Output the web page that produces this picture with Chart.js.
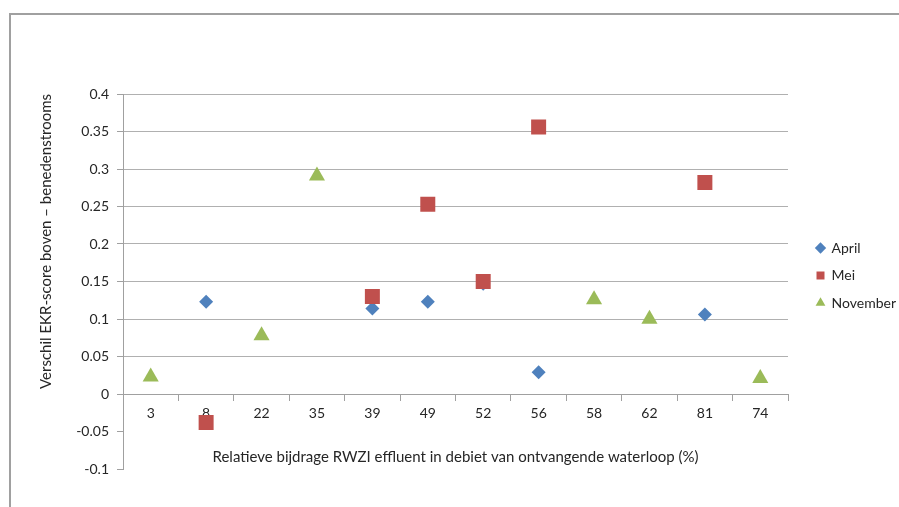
<!DOCTYPE html>
<html>
<head>
<meta charset="utf-8">
<title>EKR-score</title>
<script src="https://cdn.jsdelivr.net/npm/chart.js@4.4.1/dist/chart.umd.min.js"></script>
<style>
    html, body { margin: 0; padding: 0; background: #fff; }
    #wrap { position: relative; width: 899px; height: 507px; overflow: hidden; }
    #frame { position: absolute; left: 9px; top: 13px; width: 1000px; height: 600px;
             border-top: 2px solid #a0a0a0; border-left: 2px solid #a0a0a0; }
    #ekrChart { position: absolute; left: 0; top: 0; }
</style>
</head>
<body>
<div id="wrap">
    <div id="frame"></div>
    <canvas id="ekrChart" width="899" height="507"></canvas>
</div>
<script>
// relatieve bijdrage RWZI (%), volgorde zoals in de grafiek
var categories = ['3', '8', '22', '35', '39', '49', '52', '56', '58', '62', '81', '74'];

var seriesNames = ['April', 'Mei', 'November'];
var aprilValues    = [null, 0.123, null, null, 0.114, 0.123, 0.147, 0.029, null, null, 0.106, null];
var meiValues      = [null, -0.038, null, null, 0.130, 0.253, 0.150, 0.356, null, null, 0.282, null];
var novemberValues = [0.023, null, 0.078, 0.291, null, null, null, null, 0.126, 0.100, null, 0.021];

var yTicks = [-0.1, -0.05, 0, 0.05, 0.1, 0.15, 0.2, 0.25, 0.3, 0.35, 0.4];

window.rwzi = window.rwzi || {};
window.rwzi.EkrChart = function() {
    var self = {};

    var textColor = '#262626';
    var gridColor = '#b0b0b0';
    var axisColor = '#a0a0a0';
    var fontFamily = 'Lato, "Open Sans", sans-serif';

    // Excel zet de legenda iets hoger en verder naar rechts dan Chart.js
    var legendShift = {
        id: 'legendShift',
        afterLayout: function(chart) {
            var l = chart.legend;
            if (!l) return;
            l.left += 15;
            l.right = l.left + 120;
            l.top -= 6; l.bottom -= 6;
        }
    };

    var buildDatasets = function() {
        return [
            { label: seriesNames[0], data: aprilValues, pointStyle: 'rectRot', pointRadius: 7,
              backgroundColor: '#4f81bd', borderColor: '#4f81bd', order: 3 },
            { label: seriesNames[1], data: meiValues, pointStyle: 'rect', pointRadius: 10.6,
              backgroundColor: '#c0504d', borderColor: '#c0504d', order: 2 },
            { label: seriesNames[2], data: novemberValues, pointStyle: 'triangle', pointRadius: 9.3,
              backgroundColor: '#9bbb59', borderColor: '#9bbb59', order: 1 }
        ].map(function(ds) {
            ds.showLine = false;
            ds.pointBorderWidth = 0;
            ds.pointHoverRadius = ds.pointRadius;
            return ds;
        });
    };

    var init = function() {
        self.el = document.getElementById('ekrChart');

        self.chart = new Chart(self.el, {
            type: 'line',
            data: { labels: categories, datasets: buildDatasets() },
            plugins: [legendShift],
            options: {
                responsive: false,
                animation: false,
                events: [],
                layout: { padding: { left: 10, top: 94, right: 31, bottom: 38 } },
                plugins: {
                    tooltip: { enabled: false },
                    legend: {
                        position: 'right',
                        maxWidth: 80,
                        labels: {
                            usePointStyle: true,
                            boxWidth: 8,
                            boxHeight: 8,
                            padding: 13.5,
                            color: textColor,
                            font: { family: fontFamily, size: 14 },
                            sort: function(a, b) { return a.datasetIndex - b.datasetIndex; }
                        }
                    }
                },
                scales: {
                    x: {
                        type: 'category',
                        position: { y: 0 },
                        offset: true,
                        grid: { offset: true, drawOnChartArea: false, tickLength: 6, tickColor: axisColor },
                        border: { color: axisColor },
                        ticks: { color: textColor, padding: 5, maxRotation: 0, font: { family: fontFamily, size: 14 } },
                        title: {
                            display: true,
                            text: 'Relatieve bijdrage RWZI effluent in debiet van ontvangende waterloop (%)',
                            color: textColor,
                            font: { family: fontFamily, size: 15 },
                            padding: { top: 21, bottom: 0 }
                        }
                    },
                    y: {
                        min: yTicks[0],
                        max: yTicks[yTicks.length - 1],
                        afterFit: function(scale) { scale.width = 113; },
                        afterBuildTicks: function(scale) {
                            scale.ticks = yTicks.map(function(v) { return { value: v }; });
                        },
                        grid: {
                            color: function(ctx) { return ctx.tick && ctx.tick.value > -0.001 ? gridColor : 'rgba(0,0,0,0)'; },
                            tickColor: axisColor,
                            tickLength: 6
                        },
                        border: { color: axisColor },
                        ticks: {
                            color: textColor,
                            padding: 8,
                            font: { family: fontFamily, size: 14 },
                            callback: function(v) { return String(+(+v).toFixed(2)); }
                        },
                        title: {
                            display: true,
                            align: 'end',
                            text: 'Verschil EKR-score boven \u2013 benedenstrooms',
                            color: textColor,
                            font: { family: fontFamily, size: 15 },
                            padding: { top: 27, bottom: 0 }
                        }
                    }
                }
            }
        });
    };

    return { init: init };
}();

window.rwzi.EkrChart.init();
</script>
</body>
</html>
